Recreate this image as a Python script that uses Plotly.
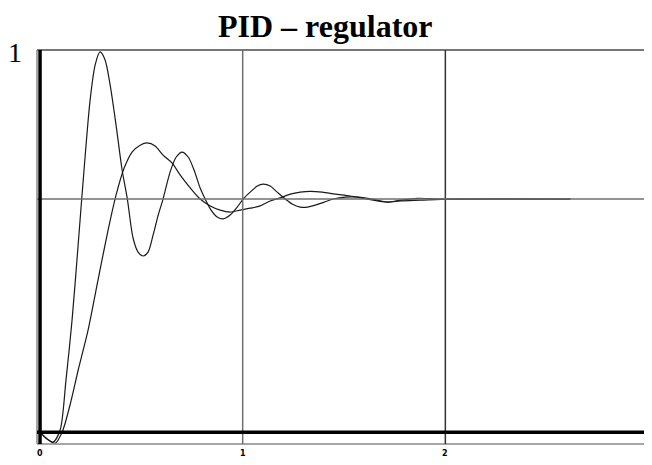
import plotly.graph_objects as go

# ---- data ----
title_text = "PID – regulator"
x_tick_vals = [0, 1, 2]
x_tick_labels = ["0", "1", "2"]
y_top_label = "1"
setpoint = 0.61

t_fast = [0, 0.03, 0.064, 0.099, 0.128, 0.158, 0.188, 0.217, 0.247, 0.272, 0.296,
          0.321, 0.346, 0.375, 0.405, 0.43, 0.459, 0.484, 0.509, 0.533, 0.558,
          0.583, 0.607, 0.642, 0.672, 0.701, 0.731, 0.76, 0.79, 0.815, 0.844,
          0.874, 0.904, 0.938, 0.973, 1.002, 1.037, 1.072, 1.101, 1.136, 1.17,
          1.21, 1.244, 1.284, 1.319, 1.358, 1.402, 1.447, 1.506, 1.57, 1.64,
          1.714, 1.778, 1.862, 1.965, 2.123, 2.617]
y_fast = [0, -0.016, -0.026, 0.005, 0.136, 0.293, 0.49, 0.686, 0.869, 0.961, 0.995,
          0.974, 0.908, 0.804, 0.686, 0.613, 0.508, 0.471, 0.461, 0.471, 0.516,
          0.568, 0.61, 0.681, 0.72, 0.733, 0.72, 0.686, 0.639, 0.61, 0.581,
          0.563, 0.558, 0.568, 0.589, 0.61, 0.628, 0.644, 0.649, 0.644, 0.628,
          0.61, 0.597, 0.589, 0.589, 0.594, 0.602, 0.61, 0.615, 0.615, 0.61,
          0.602, 0.607, 0.612, 0.61, 0.61, 0.61]

t_slow = [0, 0.035, 0.074, 0.109, 0.148, 0.188, 0.237, 0.286, 0.336, 0.375, 0.415,
          0.454, 0.494, 0.528, 0.568, 0.607, 0.652, 0.691, 0.741, 0.79, 0.84,
          0.889, 0.938, 0.988, 1.037, 1.086, 1.136, 1.185, 1.235, 1.284, 1.333,
          1.393, 1.457, 1.531, 1.615, 1.714, 1.778, 1.877, 2.025, 2.617]
y_slow = [0, -0.018, -0.029, 0, 0.071, 0.162, 0.267, 0.398, 0.529, 0.62, 0.691,
          0.733, 0.751, 0.757, 0.749, 0.725, 0.704, 0.673, 0.639, 0.61, 0.592,
          0.581, 0.576, 0.581, 0.586, 0.592, 0.605, 0.613, 0.623, 0.628, 0.63,
          0.628, 0.623, 0.618, 0.61, 0.602, 0.605, 0.607, 0.61, 0.61]

X_RANGE = [-0.015, 3.0]
Y_RANGE = [-0.031, 1.0]

fig = go.Figure()

for tx, ty in [(t_slow, y_slow), (t_fast, y_fast)]:
    fig.add_trace(go.Scatter(x=tx, y=ty, mode="lines",
                             line=dict(color="#1a1a1a", width=1.2, shape="spline", smoothing=0.8),
                             showlegend=False, hoverinfo="skip"))

shapes = []
# outer frame
shapes.append(dict(type="line", xref="paper", yref="paper", x0=0, x1=1, y0=1, y1=1,
                   line=dict(color="#777777", width=2)))
shapes.append(dict(type="line", xref="paper", yref="paper", x0=0, x1=1, y0=0, y1=0,
                   line=dict(color="#888888", width=1.5)))
shapes.append(dict(type="line", xref="paper", yref="paper", x0=0, x1=0, y0=0, y1=1,
                   line=dict(color="#888888", width=1.5)))
shapes.append(dict(type="line", xref="paper", yref="paper", x0=1, x1=1, y0=0, y1=1,
                   line=dict(color="#222222", width=2)))
# grid lines
shapes.append(dict(type="line", xref="x", yref="paper", x0=1, x1=1, y0=0, y1=1,
                   line=dict(color="#6f6f6f", width=1.5)))
shapes.append(dict(type="line", xref="x", yref="paper", x0=2, x1=2, y0=0, y1=1,
                   line=dict(color="#333333", width=1.5)))
shapes.append(dict(type="line", xref="paper", yref="y", x0=0, x1=1, y0=setpoint, y1=setpoint,
                   line=dict(color="#6f6f6f", width=1.5)))
# thick axes
shapes.append(dict(type="line", xref="paper", yref="y", x0=0, x1=1, y0=0, y1=0,
                   line=dict(color="#000000", width=3.5)))
shapes.append(dict(type="line", xref="x", yref="paper", x0=0, x1=0, y0=0, y1=1,
                   line=dict(color="#000000", width=3.5)))

annotations = []
for v, lab in zip(x_tick_vals, x_tick_labels):
    annotations.append(dict(x=v, xref="x", y=-0.023, yref="paper", text="<b>%s</b>" % lab,
                            showarrow=False, xanchor="center", yanchor="middle",
                            font=dict(family="DejaVu Sans", size=8, color="#000000")))
annotations.append(dict(x=0.471, xref="paper", y=1.062, yref="paper", text="<b>%s</b>" % title_text,
                        showarrow=False, xanchor="center", yanchor="middle",
                        font=dict(family="Liberation Serif", size=32, color="#000000")))
annotations.append(dict(x=-0.036, xref="paper", y=0.993, yref="paper", text=y_top_label,
                        showarrow=False, xanchor="center", yanchor="middle",
                        font=dict(family="Liberation Serif", size=28, color="#000000")))

fig.update_layout(
    width=644, height=457,
    margin=dict(l=29, r=4, t=42, b=21),
    paper_bgcolor="white", plot_bgcolor="white",
    xaxis=dict(range=X_RANGE, showgrid=False, zeroline=False, showline=False,
               showticklabels=False, ticks="", fixedrange=True),
    yaxis=dict(range=Y_RANGE, showgrid=False, zeroline=False, showline=False,
               showticklabels=False, ticks="", fixedrange=True),
    shapes=shapes, annotations=annotations,
)

fig.write_html("out.html")
